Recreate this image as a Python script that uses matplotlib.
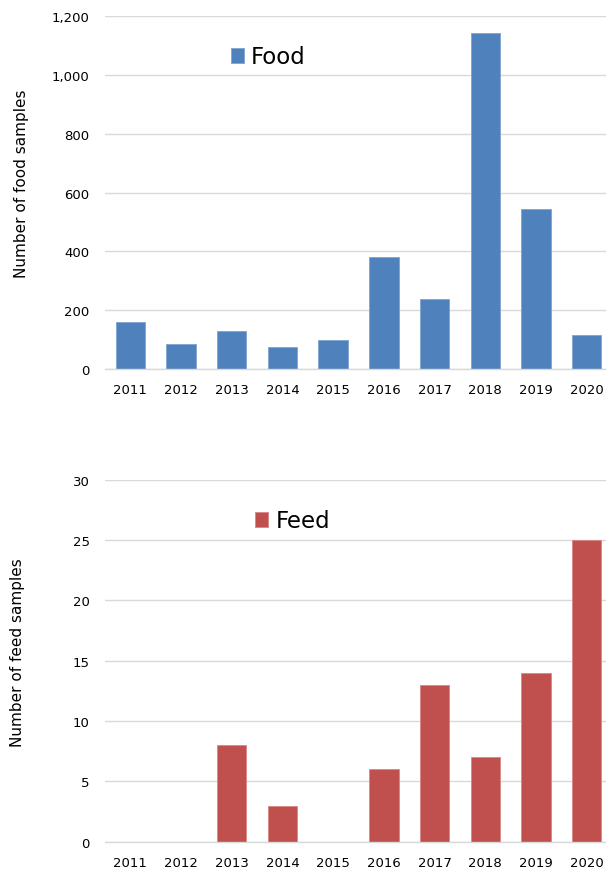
import matplotlib.pyplot as plt
from matplotlib.ticker import FuncFormatter

# data
years = ["2011", "2012", "2013", "2014", "2015", "2016", "2017", "2018", "2019", "2020"]
food = [159, 85, 130, 76, 100, 380, 238, 1141, 544, 117]
feed = [0, 0, 8, 3, 0, 6, 13, 7, 14, 25]

food_color = "#4F81BD"
feed_color = "#C0504D"
grid_color = "#D9D9D9"

plt.rcParams["font.family"] = ["DejaVu Sans"]

fig = plt.figure(figsize=(6.06, 8.70), dpi=100)
ax1 = fig.add_axes([105 / 606, 500 / 870, 507 / 606, 353 / 870])
ax2 = fig.add_axes([105 / 606, 27.3 / 870, 507 / 606, 362 / 870])


def style_axis(ax, ymax, step):
    ax.set_xlim(-0.5, len(years) - 0.5)
    ax.set_ylim(0, ymax)
    ax.set_yticks(range(0, ymax + 1, step))
    ax.grid(axis="y", color=grid_color, linewidth=1)
    ax.set_axisbelow(True)
    for s in ["top", "right", "left"]:
        ax.spines[s].set_visible(False)
    ax.spines["bottom"].set_color(grid_color)
    ax.spines["bottom"].set_linewidth(1)
    ax.tick_params(axis="both", length=0, labelsize=9.5, colors="#000000")
    ax.tick_params(axis="y", pad=11)
    ax.tick_params(axis="x", pad=10)
    ax.set_xticks(range(len(years)))
    ax.set_xticklabels(years)


# top panel: food
ax1.bar(range(len(years)), food, width=0.58, color=food_color,
        edgecolor="#7FA3D0", linewidth=0.6, label="Food")
style_axis(ax1, 1200, 200)
ax1.yaxis.set_major_formatter(FuncFormatter(lambda v, p: f"{int(v):,}"))
ax1.set_ylabel("Number of food samples", fontsize=11)
ax1.yaxis.set_label_coords(-0.150, 0.527)
ax1.legend(loc="center left", bbox_to_anchor=(210 / 606, 1 - 58 / 870),
           bbox_transform=fig.transFigure, frameon=False, fontsize=16.5,
           handlelength=0.6, handleheight=0.6, handletextpad=0.3)

# bottom panel: feed
ax2.bar(range(len(years)), feed, width=0.58, color=feed_color,
        edgecolor="#D98785", linewidth=0.6, label="Feed")
style_axis(ax2, 30, 5)
ax2.set_ylabel("Number of feed samples", fontsize=11)
ax2.yaxis.set_label_coords(-0.158, 0.525)
ax2.legend(loc="center left", bbox_to_anchor=(234 / 606, 1 - 522 / 870),
           bbox_transform=fig.transFigure, frameon=False, fontsize=16.5,
           handlelength=0.6, handleheight=0.6, handletextpad=0.3)

fig.savefig("out.png", dpi=100)
